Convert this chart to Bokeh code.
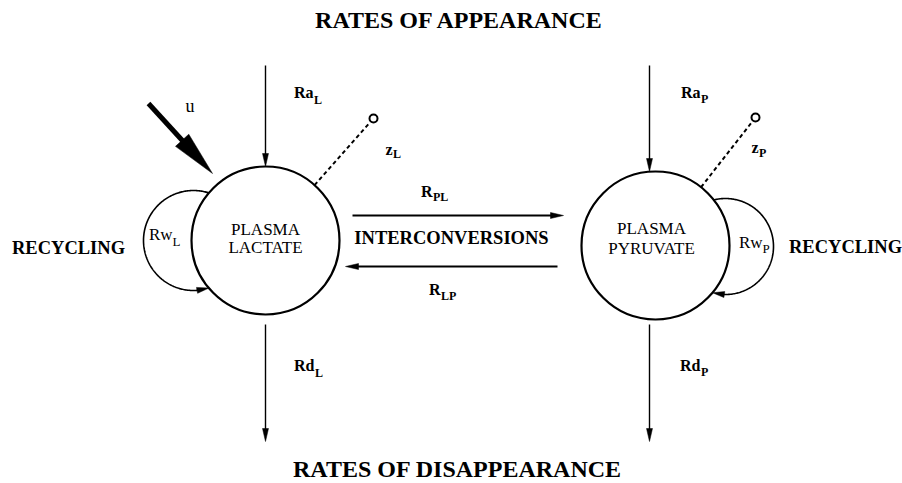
import numpy as np
from bokeh.plotting import figure
from bokeh.models import Range1d
from bokeh.core.properties import value
from bokeh.embed import file_html
from bokeh.resources import INLINE

# ---------------- diagram content ----------------
titles = ["RATES OF APPEARANCE", "RATES OF DISAPPEARANCE"]
side_labels = ["RECYCLING", "INTERCONVERSIONS", "RECYCLING"]
pool_names = [["PLASMA", "LACTATE"], ["PLASMA", "PYRUVATE"]]
flux_base = ["Ra", "Ra", "Rd", "Rd", "R", "R", "z", "z"]
flux_sub = ["L", "P", "L", "P", "PL", "LP", "L", "P"]
recyc_base = ["Rw", "Rw"]
recyc_sub = ["L", "P"]
input_label = "u"

# ---------------- layout (pixel space of the drawing) ----------------
W, H = 902, 483
pool_x = [265, 655]
pool_y = [240, 245]
pool_r = [74, 74]
recyc_cx = [193, 725]
recyc_cy = [240, 246]
recyc_r = [50, 48]

FONT = value("Liberation Serif")

p = figure(width=W, height=H, x_range=Range1d(0, W), y_range=Range1d(H, 0),
           output_backend="svg", toolbar_location=None, min_border=0,
           x_axis_type=None, y_axis_type=None)
p.outline_line_color = None
p.background_fill_color = "white"
p.border_fill_color = "white"


def arrow(x0, y0, x1, y1, lw=1.4, L=13, Wd=6):
    d = np.array([x1 - x0, y1 - y0], dtype=float)
    d /= np.hypot(*d)
    n = np.array([-d[1], d[0]])
    base = np.array([x1, y1]) - d * L
    p.line([x0, base[0] + d[0] * 2], [y0, base[1] + d[1] * 2], line_color="black", line_width=lw)
    p.patch([x1, base[0] + n[0] * Wd / 2, base[0] - n[0] * Wd / 2],
            [y1, base[1] + n[1] * Wd / 2, base[1] - n[1] * Wd / 2],
            fill_color="black", line_color="black", line_width=0.5)


# pools
p.circle(x=pool_x, y=pool_y, radius=pool_r, fill_color=None, line_color="black", line_width=2.2)

# vertical fluxes
arrow(pool_x[0], 65, pool_x[0], pool_y[0] - pool_r[0])
arrow(649, 65, 649, pool_y[1] - pool_r[1])
arrow(pool_x[0], 324, pool_x[0], 441)
arrow(649, 324, 649, 441)

# interconversions
arrow(352, 215, 563, 215, lw=1.8)
arrow(557, 266, 345, 266, lw=1.8)

# input u
arrow(148, 103, 212, 173, lw=5, L=45, Wd=18)

# dashed sampling lines
for (cx, cy, r, mx, my) in [(pool_x[0], pool_y[0], pool_r[0], 373, 118),
                             (pool_x[1], pool_y[1], pool_r[1], 755, 117)]:
    d = np.array([mx - cx, my - cy], dtype=float)
    d /= np.hypot(*d)
    sx, sy = cx + d[0] * r, cy + d[1] * r
    ex, ey = mx - d[0] * 5, my - d[1] * 5
    p.line([sx, ex], [sy, ey], line_color="black", line_width=2, line_dash="4 3")
    p.scatter([mx], [my], marker="circle", size=8, fill_color="white", line_color="black", line_width=2)

# recycling arcs (arrow end at the bottom)
for i in range(2):
    cx, cy, r = recyc_cx[i], recyc_cy[i], recyc_r[i]
    PX, PY, PR = pool_x[i], pool_y[i], pool_r[i]
    dd = np.hypot(PX - cx, PY - cy)
    a = (r ** 2 - PR ** 2 + dd ** 2) / (2 * dd)
    ang = np.arccos(a / r)
    base_ang = np.arctan2(PY - cy, PX - cx)
    if i == 0:
        th = np.linspace(base_ang - ang, base_ang - 2 * np.pi + ang, 200)
    else:
        th = np.linspace(base_ang + ang - 2 * np.pi, base_ang - ang, 200)
    xs = cx + r * np.cos(th)
    ys = cy + r * np.sin(th)
    p.line(xs[:-6], ys[:-6], line_color="black", line_width=1.6)
    arrow(xs[-14], ys[-14], xs[-1], ys[-1], lw=1.6, L=12, Wd=6)


# ---------------- texts ----------------
def txt(xs, ys, texts, size, style="bold", align="center"):
    # compensate the renderer's downward offset of the alphabetic baseline
    dy = 2 + 0.22 * size
    p.text(x=xs, y=[y - dy for y in ys], text=texts, text_align=align,
           text_font=FONT, text_font_style=style, text_color="black",
           text_baseline="alphabetic", text_font_size=value(f"{size}px"))


txt([459, 457], [27, 476], titles, 24)
txt([68, 451, 845], [254, 244, 253], side_labels, 18.5)

txt([265, 265, 651, 651], [235, 253, 234, 254],
    [pool_names[0][0], pool_names[0][1], pool_names[1][0], pool_names[1][1]], 17, style="normal")

# base text right-aligned at the junction, subscript left-aligned there
junc_x = [313, 700, 314, 700, 432, 440, 392, 758]
fb_y = [98, 98, 371, 371, 197, 295, 155, 153]
fs_y = [104, 103, 377, 376, 201, 300, 158, 157]
txt(junc_x, fb_y, flux_base, 16, align="right")
txt([j + 0.5 for j in junc_x], fs_y, flux_sub, 12, align="left")

rjunc_x = [172, 762]
txt(rjunc_x, [240, 248], recyc_base, 17, style="normal", align="right")
txt(rjunc_x, [246, 253], recyc_sub, 13, style="normal", align="left")

txt([185], [111], [input_label], 18, style="normal", align="left")

open("out.html", "w").write(file_html(p, INLINE))
